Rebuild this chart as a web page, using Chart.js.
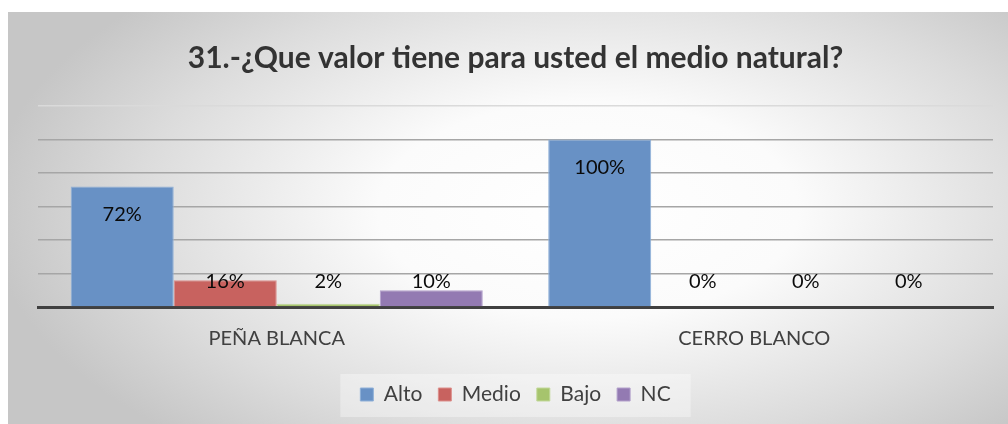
<!DOCTYPE html>
<html>
<head>
<meta charset="utf-8">
<script src="https://cdn.jsdelivr.net/npm/chart.js@4.4.1/dist/chart.umd.min.js"></script>
<style>
    html, body { margin: 0; padding: 0; background: #fff; }
    #box {
        position: absolute; left: 8px; top: 12px; width: 1000px; height: 412px;
        background: radial-gradient(ellipse 60% 75% at 58% 48%, #ffffff 0%, #fbfbfb 35%, #dcdcdc 75%, #c6c6c6 100%);
    }
    canvas { display: block; }
</style>
</head>
<body>
<div id="box"><canvas id="chart" width="1000" height="412"></canvas></div>
<script>
// Data
const categories = ['PEÑA BLANCA', 'CERRO BLANCO'];
const alto = [72, 100];
const medio = [16, 0];
const bajo = [2, 0];
const nc = [10, 0];

const fontFamily = 'Lato, "Open Sans", sans-serif';

// value labels: inside end, but never lower than a fixed line above the axis
const valueLabels = {
    id: 'valueLabels',
    afterDatasetsDraw(chart) {
        const ctx = chart.ctx;
        const base = chart.scales.y.getPixelForValue(0);
        ctx.save();
        ctx.font = '20px ' + fontFamily;
        ctx.fillStyle = '#0a0a0a';
        ctx.textAlign = 'center';
        ctx.textBaseline = 'middle';
        chart.data.datasets.forEach((ds, i) => {
            chart.getDatasetMeta(i).data.forEach((bar, j) => {
                const y = Math.min(bar.y + 28, base - 25);
                ctx.fillText(ds.data[j] + '%', bar.x, y);
            });
        });
        ctx.restore();
    }
};

// faint lighter panel behind the legend
const legendPanel = {
    id: 'legendPanel',
    beforeDraw(chart) {
        const hits = chart.legend && chart.legend.legendHitBoxes;
        if (!hits || !hits.length) return;
        const first = hits[0], last = hits[hits.length - 1];
        const ctx = chart.ctx;
        ctx.save();
        ctx.fillStyle = 'rgba(255,255,255,0.35)';
        ctx.fillRect(first.left - 20, first.top - 10, last.left + last.width - first.left + 40, first.height + 22);
        ctx.restore();
    }
};

new Chart(document.getElementById('chart'), {
    type: 'bar',
    data: {
        labels: categories,
        datasets: [
            { label: 'Alto', data: alto, backgroundColor: '#6891c5', borderColor: '#8fb0d8', borderWidth: 1 },
            { label: 'Medio', data: medio, backgroundColor: '#c8625f', borderColor: '#dc8f8c', borderWidth: 1 },
            { label: 'Bajo', data: bajo, backgroundColor: '#a6c46d', borderColor: '#c2d89a', borderWidth: 1 },
            { label: 'NC', data: nc, backgroundColor: '#937ab2', borderColor: '#b3a0cb', borderWidth: 1 }
        ]
    },
    options: {
        responsive: false,
        animation: false,
        layout: { padding: { left: 30, right: 15, top: 0, bottom: 9 } },
        datasets: { bar: { categoryPercentage: 0.863, barPercentage: 1 } },
        plugins: {
            title: {
                display: true,
                text: '31.-¿Que valor tiene para usted el medio natural?',
                color: '#333333',
                font: { family: fontFamily, size: 30, weight: 'bold' },
                padding: { top: 28, bottom: 30 }
            },
            legend: {
                position: 'bottom',
                labels: {
                    color: '#404040',
                    font: { family: fontFamily, size: 21 },
                    boxWidth: 13,
                    boxHeight: 13,
                    padding: 16
                }
            },
            tooltip: { enabled: false }
        },
        scales: {
            x: {
                grid: { display: false },
                border: { color: '#404040', width: 3 },
                ticks: { color: '#404040', font: { family: fontFamily, size: 20 }, padding: 12 },
                afterFit: s => { s.height += 5; }
            },
            y: {
                min: 0,
                max: 120,
                ticks: { display: false, stepSize: 20 },
                border: { display: false },
                grid: {
                    color: ctx => ctx.tick.value === 120 ? '#dadada' : '#a6a6a6',
                    lineWidth: 1.5,
                    drawTicks: false
                },
                afterFit: s => { s.width = 0; }
            }
        }
    },
    plugins: [legendPanel, valueLabels]
});
</script>
</body>
</html>
